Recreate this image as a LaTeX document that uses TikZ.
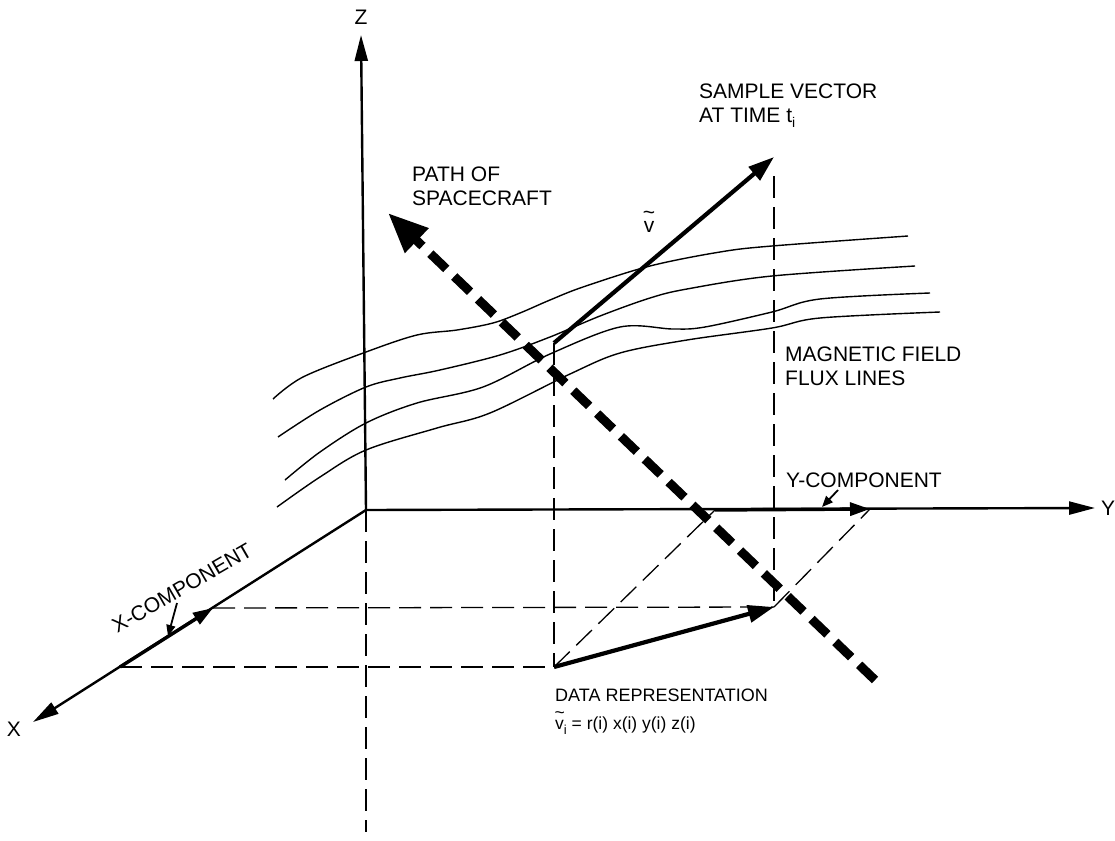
\documentclass[tikz,border=0pt]{standalone}
\usepackage{fontspec}
\setmainfont{Liberation Sans}
\usetikzlibrary{arrows.meta}
\newcommand{\tv}{\rlap{\hspace{-0.04em}\raisebox{0.6em}{\textasciitilde}}v}
\begin{document}
\begin{tikzpicture}[x=1pt,y=-1pt,
  lbl/.style={inner sep=0pt, font=\fontsize{21}{24}\selectfont, align=left},
  axisline/.style={line width=2.4pt},
  axisarrow/.style={axisline, -{Triangle[length=26pt,width=13pt]}},
  thin dash/.style={line width=1.3pt, dash pattern=on 22pt off 9pt},
  flux/.style={line width=1.4pt},
  vecarrow/.style={line width=4.2pt, -{Triangle[length=26pt,width=17pt]}},
  comparrow/.style={line width=3.4pt, -{Triangle[length=20pt,width=13pt]}},
  leader/.style={line width=1.8pt, -{Triangle[length=11pt,width=9pt]}},
  craft/.style={line width=9pt, dash pattern=on 22pt off 11pt, -{Triangle[length=40pt,width=32pt]}}
]
\useasboundingbox (0,0) rectangle (1115,840);
% key points
\coordinate (O) at (366,510);
\coordinate (Ztip) at (361,35);
\coordinate (Zbot) at (366,832);
\coordinate (Ytip) at (1095,508);
\coordinate (Xtip) at (33,722);
\coordinate (Xc1) at (120,667);
\coordinate (Xc2) at (213,608);
\coordinate (Yc1) at (715,510);
\coordinate (Yc2) at (870,509);
\coordinate (D0) at (554,667);
\coordinate (D1) at (774,607);
\coordinate (V0) at (554,343);
\coordinate (V1) at (774,157);
\coordinate (Vd) at (774,176);
\coordinate (S0) at (875,680);
\coordinate (S1) at (388,213);
\coordinate (XL0) at (177,603);
\coordinate (XL1) at (168,636);
\coordinate (YL0) at (838,490);
\coordinate (YL1) at (822,507);

% flux lines
\draw[flux] plot[smooth, tension=0.55] coordinates {(273,399) (303,377) (366,352) (417,335) (457,330) (493,323) (520,313) (550,300) (583,287) (650,266) (720,252) (772,246) (908,236)};
\draw[flux] plot[smooth, tension=0.55] coordinates {(278,437) (320,410) (366,387) (400,378) (440,370) (500,355) (550,337) (600,316) (650,298) (687,289) (772,276) (915,266)};
\draw[flux] plot[smooth, tension=0.55] coordinates {(285,480) (320,452) (366,423) (417,403) (483,387) (550,354) (620,327) (673,329) (705,327) (772,312) (820,299) (930,293)};
\draw[flux] plot[smooth, tension=0.55] coordinates {(277,507) (320,477) (366,450) (437,428) (490,413) (570,374) (620,353) (687,340) (772,328) (820,318) (940,312)};

% dashed construction lines
\draw[thin dash] (O) -- (Zbot);
\draw[thin dash] (V0) -- (D0);
\draw[thin dash] (Vd) -- (D1);
\draw[thin dash] (Xc1) -- (D0);
\draw[thin dash] (Xc2) -- (D1);
\draw[thin dash] (D0) -- (Yc1);
\draw[thin dash] (D1) -- (Yc2);

% axes
\draw[axisarrow] (O) -- (Ztip);
\draw[axisarrow] (O) -- (Ytip);
\draw[axisarrow] (O) -- (Xtip);

% components
\draw[comparrow] (Xc1) -- (Xc2);
\draw[comparrow] (Yc1) -- (Yc2);
\draw[leader] (XL0) -- (XL1);
\draw[leader] (YL0) -- (YL1);

% vectors
\draw[vecarrow] (V0) -- (V1);
\draw[vecarrow] (D0) -- (D1);

% spacecraft path
\draw[craft] (S0) -- (S1);

% labels
\node[lbl] (zlab) at (361,17) {Z};
\node[lbl] (ylab) at (1108,508) {Y};
\node[lbl] (xlab) at (14,729) {X};
\node[lbl, anchor=west] (sample) at (699,106) {SAMPLE VECTOR\\AT TIME t\raisebox{-5pt}{\fontsize{14}{14}\selectfont i}};
\node[lbl, anchor=west] (path) at (412,186) {PATH OF\\SPACECRAFT};
\node[lbl, anchor=west] (mag) at (785,366) {MAGNETIC FIELD\\FLUX LINES};
\node[lbl, anchor=west] (ycomp) at (786,480) {Y-COMPONENT};
\node[lbl, rotate=30] (xcomp) at (182,588) {X-COMPONENT};
\node[lbl, anchor=west, font=\fontsize{18}{20}\selectfont] (data) at (555,695) {DATA REPRESENTATION};
\node[lbl, anchor=west, font=\fontsize{17.5}{20}\selectfont] (formula) at (555,723) {\tv\raisebox{-5pt}{\fontsize{13}{13}\selectfont i} = r(i) x(i) y(i) z(i)};
\node[lbl] (vlab) at (649,222) {\tv};
\end{tikzpicture}
\end{document}
